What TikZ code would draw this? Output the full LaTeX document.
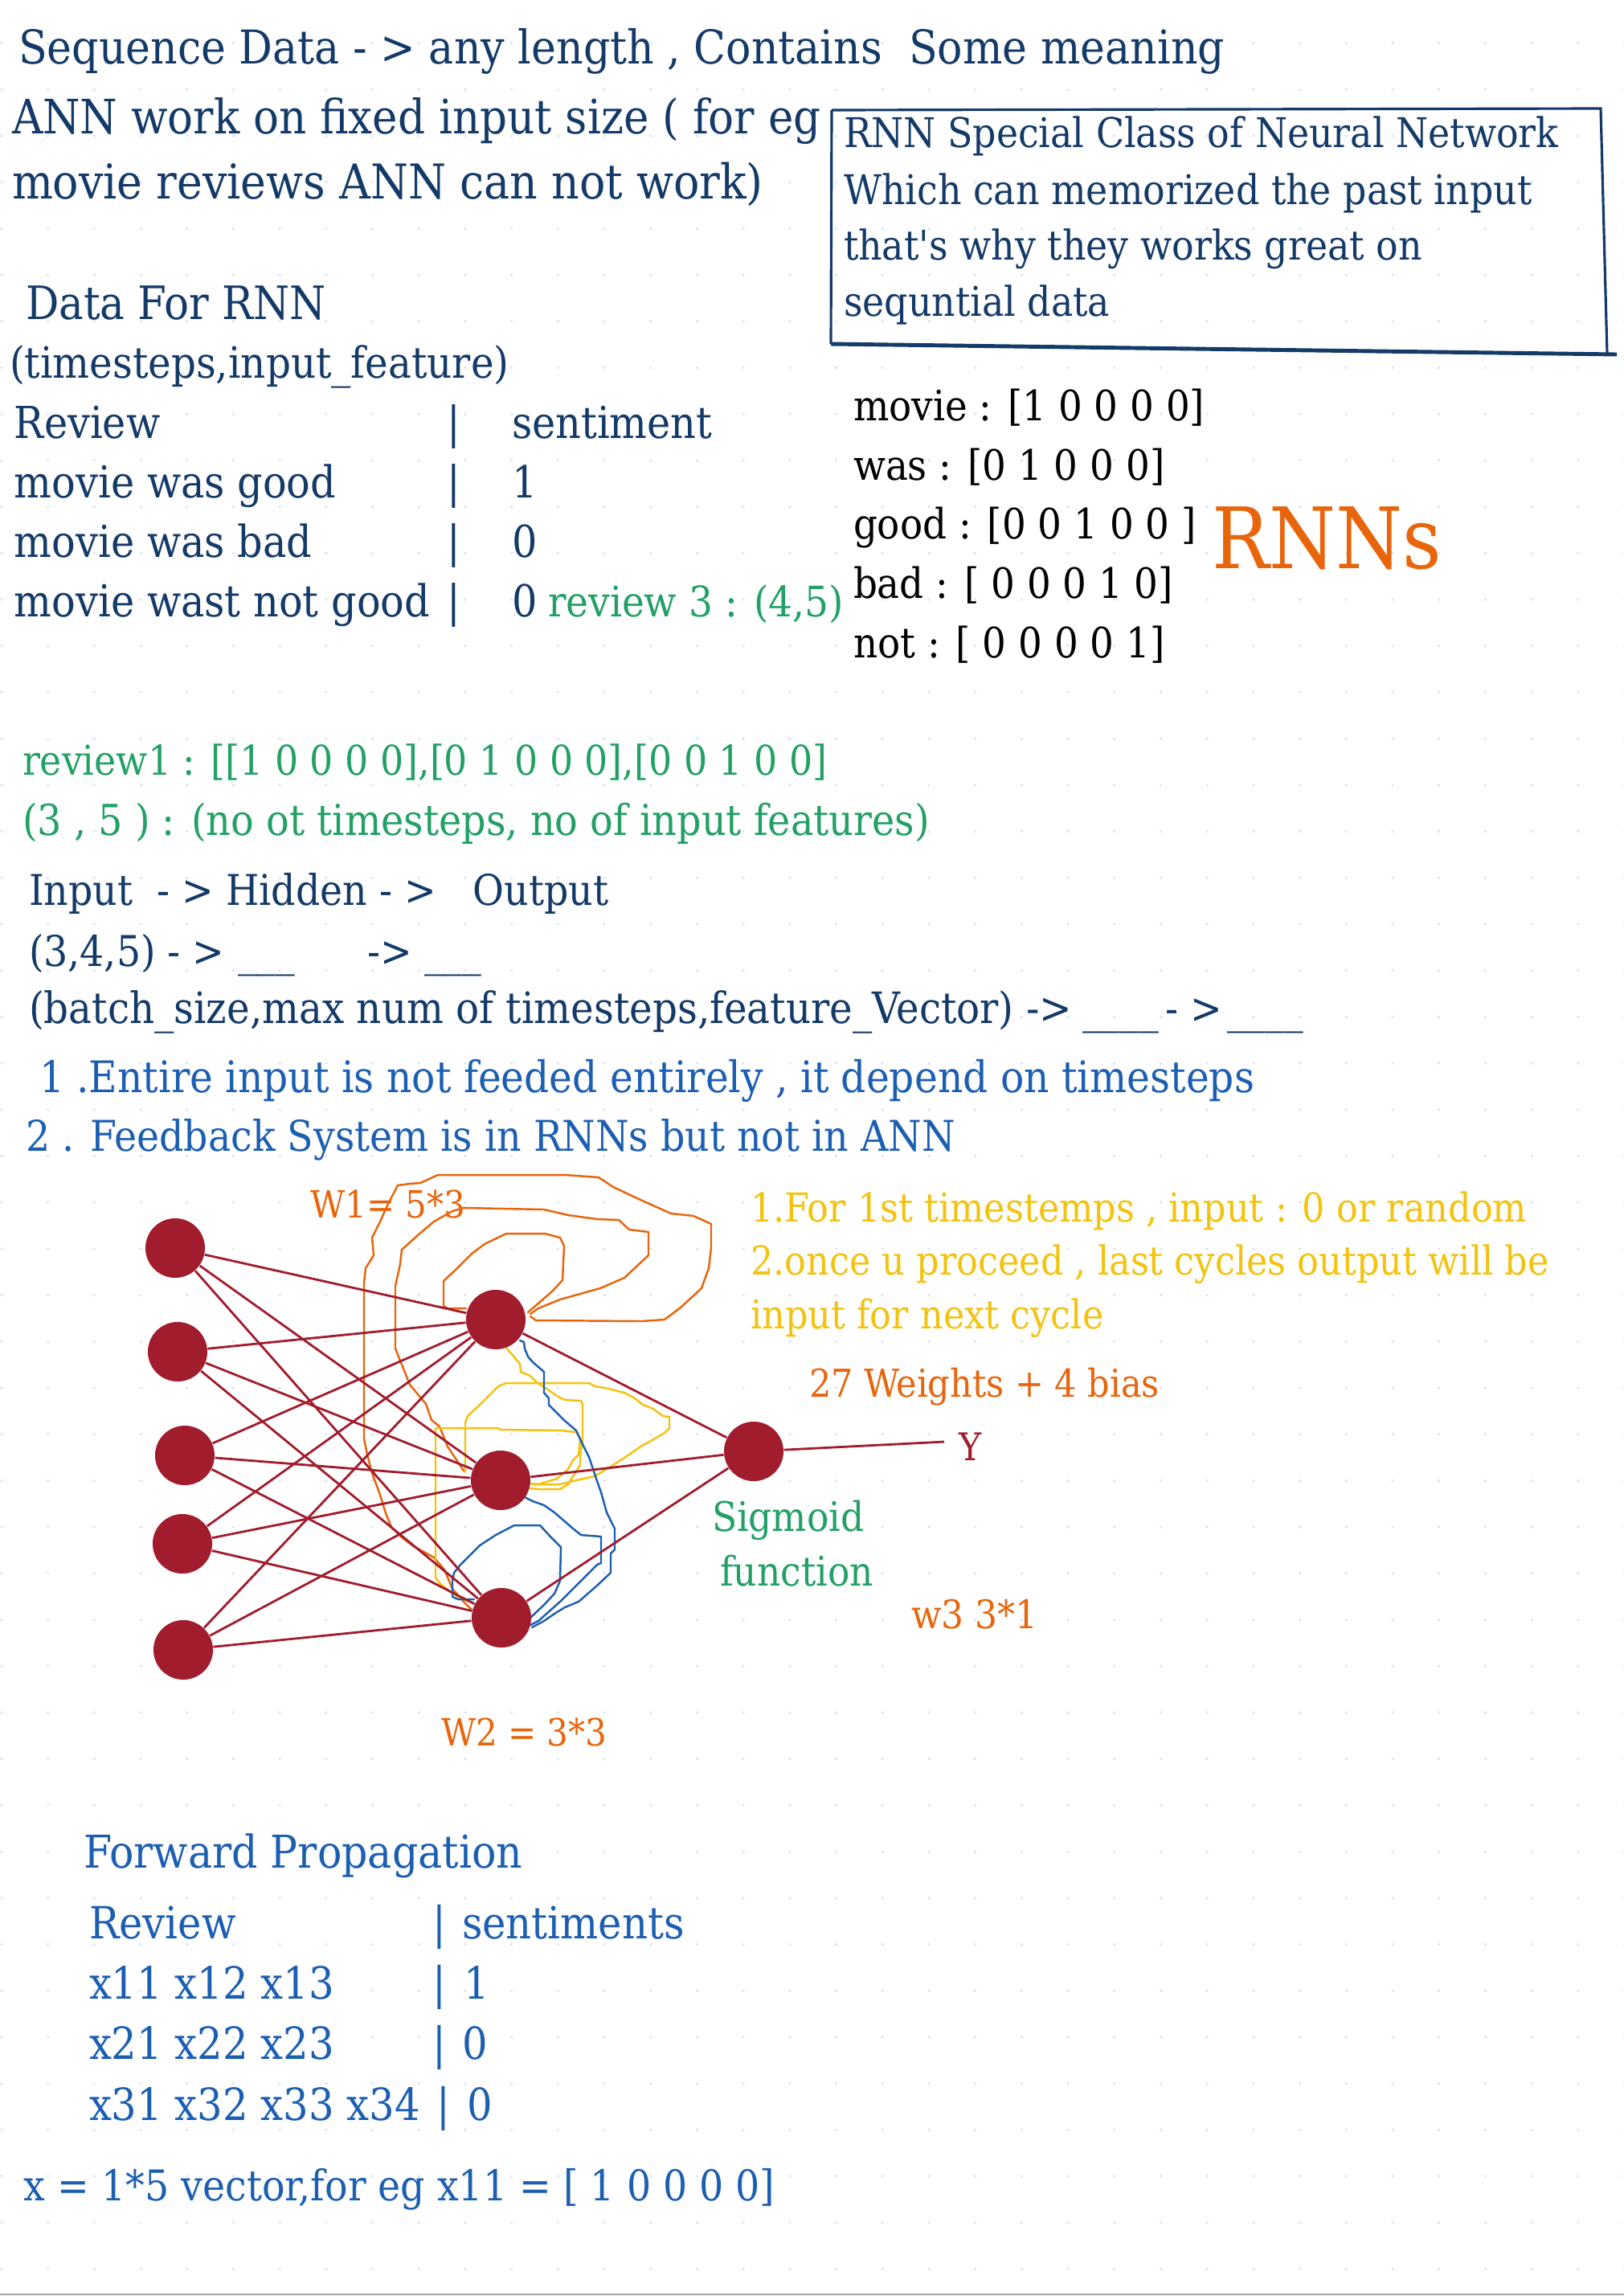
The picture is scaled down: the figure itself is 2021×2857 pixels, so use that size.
\documentclass[tikz,border=0pt]{standalone}
\usepackage{fontspec}
\setmainfont{DejaVu Serif Condensed}
\usetikzlibrary{positioning}

\definecolor{navy}{HTML}{133A68}
\definecolor{inkblue}{HTML}{1C5FB2}
\definecolor{inkgreen}{HTML}{23A067}
\definecolor{inkorange}{HTML}{E8650C}
\definecolor{inkyellow}{HTML}{F4C20F}
\definecolor{inkred}{HTML}{A11C2D}
\definecolor{gridblue}{HTML}{D3E4F5}

\newcommand{\fsz}[1]{\fontsize{#1}{#1}\selectfont}

\begin{document}
\begin{tikzpicture}[x=0.01cm,y=-0.01cm,
    lbl/.style={anchor=base west,inner sep=0pt,outer sep=0pt},
    neuron/.style={circle,fill=inkred,minimum size=0.74cm,inner sep=0pt},
    edge/.style={inkred,line width=0.8pt},
    scribble/.style={line width=0.7pt,line join=round,line cap=round}]

\useasboundingbox (0,0) rectangle (2021,2857);
\fill[white] (0,0) rectangle (2021,2857);

% Dot grid
\foreach \gx in {0,...,35}{
    \foreach \gy in {0,...,50}{
        \fill[gridblue] (57.7*\gx+2,57.7*\gy-4) circle[radius=0.5pt];
    }
}
\draw[gray!70,line width=0.5pt] (0,2855) -- (2021,2855);

% Heading lines
\node[lbl,navy,font=\fsz{16.5}] (seq) at (23,79) {Sequence Data - > any length , Contains\ \ Some meaning};
\node[lbl,navy,font=\fsz{16.8}] (ann1) at (15,166) {ANN work on fixed input size ( for eg};
\node[lbl,navy,font=\fsz{17}] (ann2) at (15,247) {movie reviews ANN can not work)};
\node[lbl,navy,font=\fsz{16.3}] (drnn) at (32,397) {Data For RNN};
\node[lbl,navy,font=\fsz{15.3}] (dshape) at (12,470) {(timesteps,input\_feature)};

% Review table
\node[lbl,navy,font=\fsz{15.6}] (rv0) at (18,545) {Review};
\node[lbl,navy,font=\fsz{15.6}] (rv1) at (18,619) {movie was good};
\node[lbl,navy,font=\fsz{15.6}] (rv2) at (18,693) {movie was bad};
\node[lbl,navy,font=\fsz{15.6}] (rv3) at (18,767) {movie wast not good};
\foreach \r/\yb in {0/545,1/619,2/693,3/767}{
    \node[lbl,navy,font=\fsz{15.6}] (bar\r) at (556,\yb) {|};
}
\node[lbl,navy,font=\fsz{15.6}] (st0) at (637,545) {sentiment};
\node[lbl,navy,font=\fsz{15.6}] (st1) at (637,619) {1};
\node[lbl,navy,font=\fsz{15.6}] (st2) at (637,693) {0};
\node[lbl,navy,font=\fsz{15.6}] (st3) at (637,767) {0};
\node[lbl,inkgreen,font=\fsz{14.9}] (rv3shape) at (682,767) {review 3 : (4,5)};

% Box
\draw[navy,line width=0.9pt] (1035,137) -- (1992,135) -- (2000,440);
\draw[navy,line width=0.9pt] (1035,137) -- (1034,428);
\draw[navy,line width=1.4pt] (1034,428) -- (2012,441);
\node[lbl,navy,font=\fsz{14.5}] (bx1) at (1050,183) {RNN Special Class of Neural Network};
\node[lbl,navy,font=\fsz{14.5}] (bx2) at (1050,254) {Which can memorized the past input};
\node[lbl,navy,font=\fsz{14.5}] (bx3) at (1050,323) {that\textquotesingle s why they works great on};
\node[lbl,navy,font=\fsz{14.5}] (bx4) at (1050,393) {sequntial data};

% Word vectors
\node[lbl,font=\fsz{14.8}] (wv1) at (1062,523) {movie : [1 0 0 0 0]};
\node[lbl,font=\fsz{14.8}] (wv2) at (1062,597) {was : [0 1 0 0 0]};
\node[lbl,font=\fsz{14.8}] (wv3) at (1062,670) {good : [0 0 1 0 0 ]};
\node[lbl,font=\fsz{14.8}] (wv4) at (1062,744) {bad : [ 0 0 0 1 0]};
\node[lbl,font=\fsz{14.8}] (wv5) at (1062,818) {not : [ 0 0 0 0 1]};
\node[lbl,inkorange,font=\fsz{30}] (rnns) at (1508,707) {RNNs};

% Shapes
\node[lbl,inkgreen,font=\fsz{14.5}] (rev1) at (28,964) {review1 : [[1 0 0 0 0],[0 1 0 0 0],[0 0 1 0 0]};
\node[lbl,inkgreen,font=\fsz{15.1}] (rev1shape) at (28,1039) {(3 , 5 ) : (no ot timesteps, no of input features)};
\node[lbl,navy,font=\fsz{15}] (flow) at (36,1126) {Input\ \ - > Hidden - >\ \ \ Output};
\node[lbl,navy,font=\fsz{15}] (flowa) at (36,1202) {(3,4,5) - >};
\node[lbl,navy,font=\fsz{15}] (flowb) at (296,1202) {\_\_\_};
\node[lbl,navy,font=\fsz{15}] (flowc) at (457,1202) {->};
\node[lbl,navy,font=\fsz{15}] (flowd) at (528,1202) {\_\_\_};
\node[lbl,navy,font=\fsz{15.3}] (batch) at (36,1273) {(batch\_size,max num of timesteps,feature\_Vector) ->};
\node[lbl,navy,font=\fsz{15}] (batchb) at (1347,1273) {\_\_\_\_};
\node[lbl,navy,font=\fsz{15}] (batchc) at (1450,1273) {- >};
\node[lbl,navy,font=\fsz{15}] (batchd) at (1527,1273) {\_\_\_\_};
\node[lbl,inkblue,font=\fsz{15.4}] (pt1) at (49,1359) {1 .Entire input is not feeded entirely , it depend on timesteps};
\node[lbl,inkblue,font=\fsz{15}] (pt2) at (32,1432) {2 . Feedback System is in RNNs but not in ANN};

% Recurrent scribbles
\draw[inkorange,scribble] (587,2003) -- (577,1993) -- (563,1977) -- (553,1953) -- (540,1938) -- (513,1923) -- (500,1913) -- (487,1900) -- (480,1883) -- (473,1860) -- (463,1833) -- (457,1810) -- (453,1790) -- (453,1597) -- (455,1578) -- (465,1562) -- (463,1540) -- (473,1520) -- (483,1498) -- (495,1475) -- (510,1473) -- (523,1472) -- (545,1462) -- (703,1462) -- (745,1465) -- (763,1477) -- (797,1493) -- (835,1510) -- (863,1513) -- (885,1523) -- (885,1553) -- (882,1578) -- (873,1603) -- (847,1627) -- (827,1642) -- (798,1644) -- (667,1643) -- (660,1638);
\draw[inkorange,scribble] (577,1830) -- (557,1800) -- (547,1775) -- (537,1767) -- (530,1747) -- (510,1723) -- (502,1703) -- (492,1678) -- (492,1600) -- (498,1573) -- (500,1555) -- (520,1537) -- (540,1520) -- (563,1507) -- (577,1503) -- (677,1505) -- (707,1512) -- (743,1517) -- (770,1518) -- (783,1530) -- (807,1533) -- (807,1562) -- (777,1590) -- (747,1603) -- (697,1617) -- (670,1628) -- (660,1635);
\draw[inkorange,scribble] (657,1633) -- (687,1607) -- (700,1593) -- (702,1550) -- (697,1540) -- (678,1535) -- (630,1535) -- (603,1548) -- (587,1560) -- (567,1580) -- (552,1594) -- (552,1625) -- (557,1628) -- (580,1628);
\draw[inkyellow,scribble] (630,1677) -- (647,1697) -- (648,1707) -- (660,1712) -- (668,1720) -- (683,1730) -- (693,1737) -- (703,1742) -- (723,1743) -- (725,1748) -- (725,1793) -- (722,1810) -- (722,1823) -- (713,1837) -- (707,1847) -- (697,1853) -- (670,1853) -- (660,1852);
\draw[inkyellow,scribble] (579,1832) -- (579,1770) -- (582,1762) -- (593,1752) -- (607,1738) -- (620,1725) -- (630,1721) -- (733,1721) -- (740,1725) -- (753,1727) -- (777,1733) -- (790,1740) -- (800,1748) -- (813,1753) -- (825,1762) -- (833,1763) -- (833,1777) -- (827,1783) -- (810,1793) -- (797,1800) -- (783,1810) -- (763,1823) -- (740,1837) -- (717,1842) -- (697,1847) -- (663,1847);
\draw[inkyellow,scribble] (583,1993) -- (570,1987) -- (557,1978) -- (547,1970) -- (542,1963) -- (542,1777) -- (620,1777) -- (623,1779) -- (698,1780) -- (717,1782) -- (722,1790) -- (720,1810) -- (713,1817) -- (707,1828) -- (693,1840) -- (670,1847) -- (660,1846);
\draw[inkblue,scribble] (647,1668) -- (652,1670) -- (653,1678) -- (657,1688) -- (663,1695) -- (677,1707) -- (677,1733) -- (683,1740) -- (683,1748) -- (703,1768) -- (717,1780) -- (725,1797) -- (733,1813) -- (742,1840) -- (748,1857) -- (755,1882) -- (765,1902) -- (765,1928) -- (760,1933) -- (760,1957) -- (743,1973) -- (720,1993) -- (703,2000) -- (690,2008) -- (677,2017) -- (662,2025);
\draw[inkblue,scribble] (653,1863) -- (663,1868) -- (677,1873) -- (690,1882) -- (713,1902) -- (723,1910) -- (748,1912) -- (748,1945) -- (743,1947) -- (717,1973) -- (697,1993) -- (670,2017) -- (660,2022);
\draw[inkblue,scribble] (660,2013) -- (677,1997) -- (690,1983) -- (697,1967) -- (698,1925) -- (683,1910) -- (672,1898) -- (640,1898) -- (617,1910) -- (597,1923) -- (573,1947) -- (565,1957) -- (563,1967) -- (563,1987) -- (570,1990) -- (590,1990);

% Neurons
\node[neuron] (i1) at (218,1553) {};
\node[neuron] (i2) at (221,1682) {};
\node[neuron] (i3) at (230,1811) {};
\node[neuron] (i4) at (227,1921) {};
\node[neuron] (i5) at (228,2053) {};
\node[neuron] (h1) at (617,1642) {};
\node[neuron] (h2) at (623,1842) {};
\node[neuron] (h3) at (624,2013) {};
\node[neuron] (o) at (938,1806) {};
\coordinate (yend) at (1175,1794);

% Connections
\foreach \i in {1,...,5}{
    \foreach \j in {1,2,3}{
        \draw[edge] (i\i) -- (h\j);
    }
}
\foreach \j in {1,2,3}{
    \draw[edge] (h\j) -- (o);
}
\draw[edge] (o) -- (yend);

% Network labels
\node[lbl,inkred,font=\fsz{13.5}] (ylab) at (1193,1817) {Y};
\node[lbl,inkorange,font=\fsz{13.3}] (w1) at (386,1515) {W1= 5*3};
\node[lbl,inkorange,font=\fsz{13.3}] (w2) at (549,2172) {W2 = 3*3};
\node[lbl,inkorange,font=\fsz{13.9}] (w3) at (1134,2026) {w3 3*1};
\node[lbl,inkorange,font=\fsz{13.6}] (wcount) at (1007,1738) {27 Weights + 4 bias};
\node[lbl,inkgreen,font=\fsz{14.4}] (sig1) at (886,1905) {Sigmoid};
\node[lbl,inkgreen,font=\fsz{14.4}] (sig2) at (896,1973) {function};
\node[lbl,inkyellow,font=\fsz{14.1}] (note1) at (934,1520) {1.For 1st timestemps , input : 0 or random};
\node[lbl,inkyellow,font=\fsz{14.1}] (note2) at (934,1586) {2.once u proceed , last cycles output will be};
\node[lbl,inkyellow,font=\fsz{14.1}] (note3) at (934,1653) {input for next cycle};

% Forward propagation table
\node[lbl,inkblue,font=\fsz{16}] (fwd) at (104,2324) {Forward Propagation};
\node[lbl,inkblue,font=\fsz{15.7}] (fr0) at (111,2412) {Review};
\node[lbl,inkblue,font=\fsz{15.7}] (fr1) at (111,2487) {x11 x12 x13};
\node[lbl,inkblue,font=\fsz{15.7}] (fr2) at (111,2562) {x21 x22 x23};
\node[lbl,inkblue,font=\fsz{15.7}] (fr3) at (111,2638) {x31 x32 x33 x34};
\node[lbl,inkblue,font=\fsz{15.7}] (fb0) at (538,2412) {|};
\node[lbl,inkblue,font=\fsz{15.7}] (fb1) at (538,2487) {|};
\node[lbl,inkblue,font=\fsz{15.7}] (fb2) at (538,2562) {|};
\node[lbl,inkblue,font=\fsz{15.7}] (fb3) at (543,2638) {|};
\node[lbl,inkblue,font=\fsz{15.7}] (fs0) at (575,2412) {sentiments};
\node[lbl,inkblue,font=\fsz{15.7}] (fs1) at (577,2487) {1};
\node[lbl,inkblue,font=\fsz{15.7}] (fs2) at (575,2562) {0};
\node[lbl,inkblue,font=\fsz{15.7}] (fs3) at (581,2638) {0};
\node[lbl,inkblue,font=\fsz{15}] (xvec) at (30,2738) {x = 1*5 vector,for eg x11 = [ 1 0 0 0 0]};

\end{tikzpicture}
\end{document}
